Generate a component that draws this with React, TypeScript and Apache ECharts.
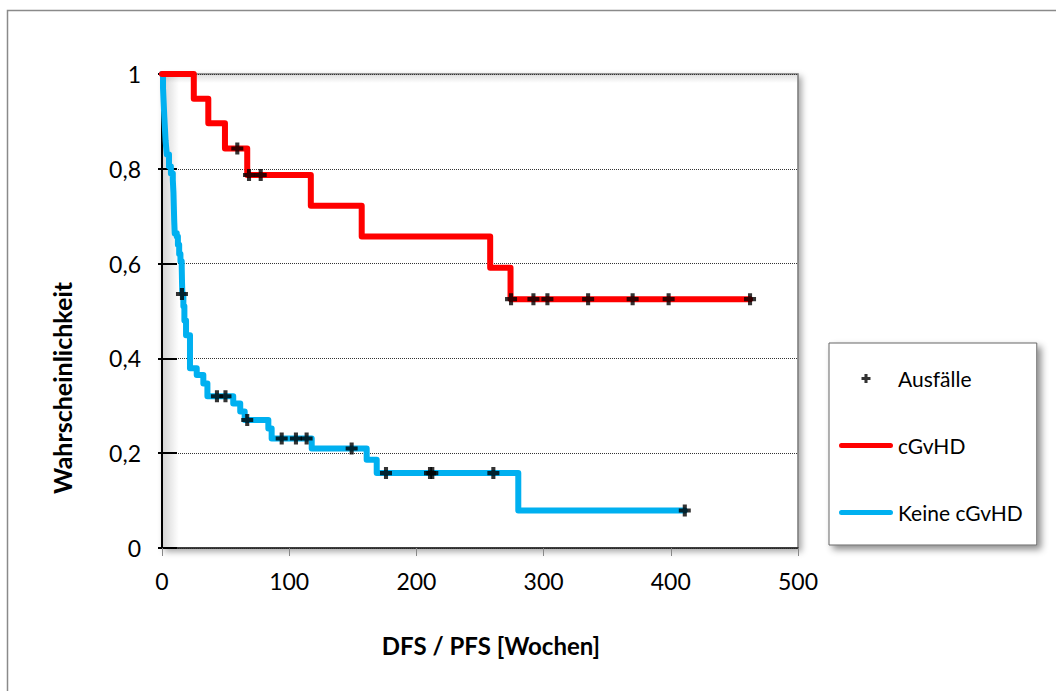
import React, { useEffect, useRef } from "react";
import * as echarts from "echarts";

// Kaplan-Meier step data: [time (weeks), survival after event]
const cgvhdSteps: [number, number][] = [
  [0, 1], [25, 0.948], [36.4, 0.896], [49.5, 0.843], [67, 0.787],
  [117, 0.722], [157, 0.657], [258, 0.591], [274, 0.525], [462.3, 0.525],
];
const cgvhdCensored: [number, number][] = [
  [59.2, 0.843], [68.4, 0.787], [77.6, 0.787], [274.4, 0.525], [292, 0.525],
  [303, 0.525], [335, 0.525], [370, 0.525], [398.3, 0.525], [462.3, 0.525],
];
const keineSteps: [number, number][] = [
  [0, 1], [0.8, 0.97], [1.3, 0.94], [1.8, 0.91], [2.3, 0.885], [2.8, 0.86],
  [3.3, 0.845], [3.8, 0.83], [5.5, 0.805], [7, 0.79], [8.5, 0.776],
  [9, 0.75], [9.3, 0.72], [9.6, 0.69], [10, 0.664], [11.6, 0.657],
  [12.5, 0.64], [13.5, 0.62], [14.5, 0.605], [15.5, 0.593], [15.7, 0.565],
  [16, 0.536], [16.8, 0.51], [17.6, 0.48], [18.9, 0.449], [22, 0.379],
  [27.3, 0.365], [32.5, 0.347], [35.7, 0.32], [56, 0.305], [61.5, 0.288],
  [65, 0.27], [83.6, 0.252], [86.2, 0.231], [117.7, 0.21], [160.9, 0.186],
  [168.8, 0.158], [280.1, 0.079], [411, 0.079],
];
const keineCensored: [number, number][] = [
  [15.7, 0.536], [43.2, 0.32], [49.9, 0.32], [67, 0.27], [94.1, 0.231],
  [105.3, 0.231], [113.7, 0.231], [149.1, 0.21], [176.1, 0.158],
  [210.7, 0.158], [212.5, 0.158], [260.5, 0.158], [411, 0.079],
];
const seriesNames = ["Ausfälle", "cGvHD", "Keine cGvHD"];
const xTitle = "DFS / PFS [Wochen]";
const yTitle = "Wahrscheinlichkeit";

const FONT = "Lato, sans-serif";
const PLUS = "path://M3.3,0h3.4v3.3h3.3v3.4h-3.3v3.3h-3.4v-3.3h-3.3v-3.4h3.3z";
const BAR = "path://M2.5,0h49a2.5,2.5 0 0 1 0,5h-49a2.5,2.5 0 0 1 0,-5z";

export default function App() {
  const ref = useRef<HTMLDivElement>(null);
  useEffect(() => {
    if (!ref.current) return;
    const chart = echarts.init(ref.current, undefined, { renderer: "svg" });
    chart.setOption({
      animation: false,
      backgroundColor: "#fff",
      textStyle: { fontFamily: FONT },
      grid: {
        left: 162, top: 74, right: 258, bottom: 143,
        show: true, backgroundColor: "#fff",
        borderColor: "#777", borderWidth: 1.5,
        shadowColor: "rgba(0,0,0,0.35)", shadowBlur: 6,
        shadowOffsetX: 3, shadowOffsetY: 3,
      },
      legend: {
        orient: "vertical",
        left: 829, top: 343,
        data: [
          { name: seriesNames[0], icon: PLUS },
          { name: seriesNames[1], icon: BAR },
          { name: seriesNames[2], icon: BAR },
        ],
        itemWidth: 54, itemHeight: 9, itemGap: 46,
        padding: [25, 14, 22, 10],
        backgroundColor: "#fff",
        borderColor: "#666", borderWidth: 1,
        shadowColor: "rgba(0,0,0,0.45)", shadowBlur: 7,
        shadowOffsetX: 4, shadowOffsetY: 4,
        textStyle: { fontFamily: FONT, fontSize: 21, color: "#000" },
      },
      xAxis: {
        type: "value", min: 0, max: 500, interval: 100,
        axisLine: { show: true, lineStyle: { color: "#222", width: 1.5 } },
        axisTick: { show: true, length: 8, lineStyle: { color: "#888" } },
        axisLabel: { fontSize: 23, color: "#000", margin: 21, fontFamily: FONT },
        splitLine: { show: false },
      },
      yAxis: [
        {
          type: "value", min: 0, max: 1, interval: 0.2,
          axisLine: { show: true, onZero: false, lineStyle: { color: "#000", width: 2 } },
          axisTick: { show: true, inside: true, length: 15, lineStyle: { color: "#000", width: 2 } },
          axisLabel: {
            fontSize: 23, color: "#000", margin: 21, fontFamily: FONT,
            formatter: (v: number) => String(Math.round(v * 10) / 10).replace(".", ","),
          },
          splitLine: { show: true, lineStyle: { type: "dotted", color: "#333", width: 1 } },
        },
        {
          type: "value", min: 0, max: 1, interval: 0.2, position: "right",
          axisLine: { show: false },
          axisTick: { show: true, inside: true, length: 4, lineStyle: { color: "#000", width: 2 } },
          axisLabel: { show: false },
          splitLine: { show: false },
        },
      ],
      graphic: [
        {
          type: "rect", z: 1, silent: true,
          shape: { x: 163, y: 75, width: 16, height: 472 },
          style: {
            fill: new echarts.graphic.LinearGradient(0, 0, 1, 0, [
              { offset: 0, color: "rgba(0,0,0,0.16)" },
              { offset: 1, color: "rgba(0,0,0,0)" },
            ]),
          },
        },
        {
          type: "rect", z: 1, silent: true,
          shape: { x: 163, y: 75, width: 634, height: 8 },
          style: {
            fill: new echarts.graphic.LinearGradient(0, 0, 0, 1, [
              { offset: 0, color: "rgba(0,0,0,0.12)" },
              { offset: 1, color: "rgba(0,0,0,0)" },
            ]),
          },
        },
        {
          type: "rect", z: 0, silent: true,
          shape: { x: 7.5, y: 10.5, width: 1100, height: 760 },
          style: { fill: "none", stroke: "#8a8a8a", lineWidth: 1.5 },
        },
        {
          type: "text", z: 5,
          x: 62, y: 388, rotation: Math.PI / 2,
          style: {
            text: yTitle, fontFamily: FONT, fontWeight: "bold",
            fontSize: 25, fill: "#000", align: "center", verticalAlign: "middle",
          },
        },
        {
          type: "text", z: 5,
          x: 491, y: 645,
          style: {
            text: xTitle, fontFamily: FONT, fontWeight: "bold",
            fontSize: 24, fill: "#000", align: "center", verticalAlign: "middle",
          },
        },
      ],
      series: [
        {
          name: seriesNames[2], type: "line", step: "end",
          data: keineSteps, symbol: "none", z: 3,
          lineStyle: { color: "#00B0F0", width: 6, join: "round", cap: "round" },
          itemStyle: { color: "#00B0F0" },
        },
        {
          name: seriesNames[1], type: "line", step: "end",
          data: cgvhdSteps, symbol: "none", z: 3,
          lineStyle: { color: "#FF0000", width: 6, join: "round", cap: "round" },
          itemStyle: { color: "#FF0000" },
        },
        {
          name: seriesNames[0], type: "scatter",
          data: [...cgvhdCensored, ...keineCensored],
          symbol: PLUS, symbolSize: 12, z: 5,
          itemStyle: { color: "#000" },
        },
      ],
    });
    return () => chart.dispose();
  }, []);
  return (
    <div
      ref={ref}
      style={{ position: "fixed", left: 0, top: 0, width: 1056, height: 691 }}
    />
  );
}
